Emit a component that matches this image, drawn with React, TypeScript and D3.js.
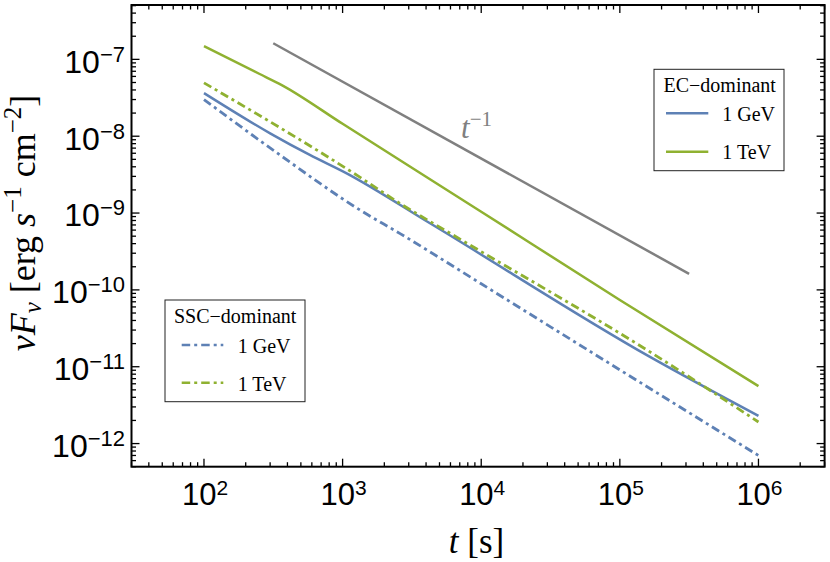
import React, { useEffect } from 'react';
import * as d3 from 'd3';

// ---- data ----
const ecGeV_t = [100, 300, 580, 1070, 4300, 165000, 1e6];
const ecGeV_f = [3.64e-8, 1.09e-8, 5.7e-9, 3.28e-9, 7.3e-10, 1.34e-11, 2.29e-12];

const ecTeV_t = [100, 250, 364, 1000, 1e4, 1e5, 1e6];
const ecTeV_f = [1.49e-7, 6.5e-8, 4.63e-8, 1.45e-8, 1.04e-9, 7.4e-11, 5.6e-12];

const sscGeV_t = [100, 353, 1340, 2600, 1e4, 1e5, 1e6];
const sscGeV_f = [3.0e-8, 5.7e-9, 1.09e-9, 5.4e-10, 1.2e-10, 9.1e-12, 7.0e-13];

const sscTeV_t = [100, 1340, 2600, 6000, 165000, 1e6];
const sscTeV_f = [4.95e-8, 2.91e-9, 1.33e-9, 5.42e-10, 1.56e-11, 1.91e-12];

const ref_t = [316, 316000];
const ref_f = [1.62e-7, 1.62e-10];

const xMajor = [1e2, 1e3, 1e4, 1e5, 1e6];
const xMajorExp = ['2', '3', '4', '5', '6'];
const yMajor = [1e-7, 1e-8, 1e-9, 1e-10, 1e-11, 1e-12];
const yMajorExp = ['\u22127', '\u22128', '\u22129', '\u221210', '\u221211', '\u221212'];

const BLUE = '#5E81B5';
const GREEN = '#8FB131';
const GRAY = '#808080';
const DASHDOT = '8.5,4,3,4';

// ---- layout ----
const W = 830, H = 562;
const L = 131.5, R = 824.6, T = 5, B = 466.7;

const x = d3.scaleLog().domain([30, 3e6]).range([L, R]);
const y = d3.scaleLog().domain([5e-13, 5.1e-7]).range([B, T]);

const zip = (a: number[], b: number[]) => a.map((v, i) => [v, b[i]] as [number, number]);
const line = d3
  .line<[number, number]>()
  .x((d) => x(d[0]))
  .y((d) => y(d[1]))
  .curve(d3.curveMonotoneX);

function minorTicks(lo: number, hi: number, majors: number[]) {
  const out: number[] = [];
  for (let e = Math.floor(Math.log10(lo)); e <= Math.ceil(Math.log10(hi)); e++) {
    for (let m = 2; m <= 9; m++) {
      const v = m * Math.pow(10, e);
      if (v >= lo * 0.999 && v <= hi * 1.001) out.push(v);
    }
  }
  return out.filter((v) => !majors.includes(v));
}

const xMinor = minorTicks(30, 3e6, xMajor);
const yMinor = minorTicks(5e-13, 5.1e-7, yMajor);

const SERIF = '"Liberation Serif", "Times New Roman", serif';
const SANS = '"Liberation Sans", Arial, sans-serif';

export default function App() {
  useEffect(() => {
    document.body.style.margin = '0';
  }, []);
  const MAJ = 8, MIN = 4.5;
  return (
    <svg width={W} height={H} style={{ display: 'block', position: 'absolute', left: 0, top: 0, background: '#fff' }}>
      <rect x={0} y={0} width={W} height={H} fill="#fff" />
      {/* series */}
      <g fill="none" strokeWidth={2.5}>
        <path d={line(zip(ref_t, ref_f)) || ''} stroke={GRAY} />
        <path d={line(zip(ecTeV_t, ecTeV_f)) || ''} stroke={GREEN} />
        <path d={line(zip(ecGeV_t, ecGeV_f)) || ''} stroke={BLUE} />
        <path d={line(zip(sscTeV_t, sscTeV_f)) || ''} stroke={GREEN} strokeWidth={2.8} strokeDasharray={DASHDOT} />
        <path d={line(zip(sscGeV_t, sscGeV_f)) || ''} stroke={BLUE} strokeWidth={2.8} strokeDasharray={DASHDOT} />
      </g>
      {/* t^-1 label */}
      <text x={461} y={138} fill={GRAY} fontFamily={SERIF} fontSize={31} fontStyle="italic">
        t
        <tspan fontStyle="normal" fontSize={21} dy={-12}>{'\u22121'}</tspan>
      </text>

      {/* frame ticks */}
      <g stroke="#000" strokeWidth={1.3}>
        {xMajor.map((v) => (
          <g key={'xM' + v}>
            <line x1={x(v)} x2={x(v)} y1={B} y2={B - MAJ} />
            <line x1={x(v)} x2={x(v)} y1={T} y2={T + MAJ} />
          </g>
        ))}
        {xMinor.map((v) => (
          <g key={'xm' + v}>
            <line x1={x(v)} x2={x(v)} y1={B} y2={B - MIN} />
            <line x1={x(v)} x2={x(v)} y1={T} y2={T + MIN} />
          </g>
        ))}
        {yMajor.map((v) => (
          <g key={'yM' + v}>
            <line x1={L} x2={L + MAJ} y1={y(v)} y2={y(v)} />
            <line x1={R} x2={R - MAJ} y1={y(v)} y2={y(v)} />
          </g>
        ))}
        {yMinor.map((v) => (
          <g key={'ym' + v}>
            <line x1={L} x2={L + MIN} y1={y(v)} y2={y(v)} />
            <line x1={R} x2={R - MIN} y1={y(v)} y2={y(v)} />
          </g>
        ))}
      </g>
      <rect x={L} y={T} width={R - L} height={B - T} fill="none" stroke="#000" strokeWidth={2} />

      {/* tick labels */}
      <g fontFamily={SANS} fill="#000">
        {xMajor.map((v, i) => (
          <text key={'xl' + v} x={x(v) + 1} y={505} fontSize={31} textAnchor="middle">
            10
            <tspan fontSize={21} dy={-10}>{xMajorExp[i]}</tspan>
          </text>
        ))}
        {yMajor.map((v, i) => (
          <text key={'yl' + v} x={125} y={y(v) + 13.4} fontSize={32} textAnchor="end">
            10
            <tspan fontSize={22} dy={-11}>{yMajorExp[i]}</tspan>
          </text>
        ))}
      </g>

      {/* axis titles */}
      <text x={476.5} y={553} fontFamily={SERIF} fontSize={35} textAnchor="middle">
        <tspan fontStyle="italic">t</tspan> [s]
      </text>
      <text transform="translate(35,223) rotate(-90)" fontFamily={SERIF} fontSize={36} textAnchor="middle">
        <tspan fontStyle="italic">νF</tspan>
        <tspan fontStyle="italic" fontSize={25} dy={6}>ν</tspan>
        <tspan dy={-6}> [erg </tspan>
        <tspan fontStyle="italic">s</tspan>
        <tspan fontSize={25} dy={-14}>{'\u22121'}</tspan>
        <tspan dy={14}> cm</tspan>
        <tspan fontSize={25} dy={-14}>{'\u22122'}</tspan>
        <tspan dy={14}>]</tspan>
      </text>

      {/* EC legend */}
      <g fontFamily={SERIF} fontSize={20}>
        <rect x={654} y={69.3} width={130} height={101.4} fill="#fff" stroke="#222" strokeWidth={1} />
        <text x={663.5} y={91.7}>EC−dominant</text>
        <line x1={666} x2={708.3} y1={113.3} y2={113.3} stroke={BLUE} strokeWidth={2.5} />
        <text x={722.3} y={121}>1 GeV</text>
        <line x1={666} x2={708.3} y1={151.7} y2={151.7} stroke={GREEN} strokeWidth={2.5} />
        <text x={722.3} y={159.3}>1 TeV</text>
      </g>

      {/* SSC legend */}
      <g fontFamily={SERIF} fontSize={20}>
        <rect x={165} y={300} width={140} height={101.7} fill="#fff" stroke="#222" strokeWidth={1} />
        <text x={174} y={323.3}>SSC−dominant</text>
        <line x1={181.7} x2={223.3} y1={345} y2={345} stroke={BLUE} strokeWidth={2.5} strokeDasharray={DASHDOT} />
        <text x={237.7} y={352.7}>1 GeV</text>
        <line x1={181.7} x2={223.3} y1={382.7} y2={382.7} stroke={GREEN} strokeWidth={2.5} strokeDasharray={DASHDOT} />
        <text x={237.7} y={391}>1 TeV</text>
      </g>
    </svg>
  );
}
